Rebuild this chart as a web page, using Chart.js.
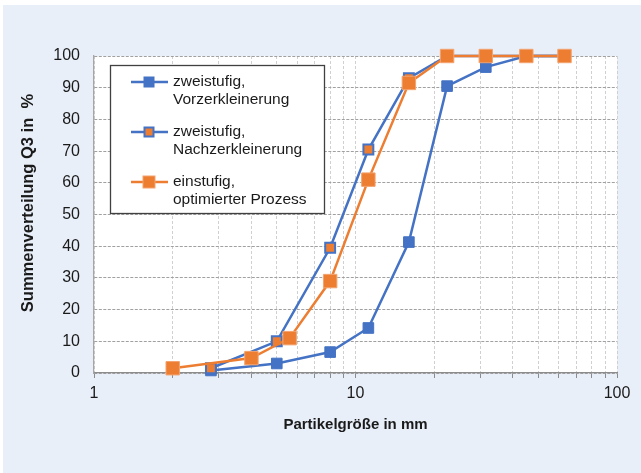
<!DOCTYPE html>
<html>
<head>
<meta charset="utf-8">
<script src="https://cdn.jsdelivr.net/npm/chart.js@4.4.1/dist/chart.umd.min.js"></script>
<style>
  html, body { margin: 0; padding: 0; background: #ffffff; }
  #frame { position: absolute; left: 3px; top: 5px; width: 638px; height: 468px; background: #e9eff9; }
  #chart { display: block; }
</style>
</head>
<body>
<div id="frame"><canvas id="chart" width="638" height="468"></canvas></div>
<script>
// Partikelgrößen (mm) und Summenverteilung Q3 (%)
const sizesVor = [2.8, 5, 8, 11.2, 16, 22.4, 31.5, 45, 63];
const q3Vor = [0.8, 3, 6.6, 14.2, 41.3, 90.5, 96.5, 100, 100];

const sizesNach = [2.8, 5, 8, 11.2, 16, 22.4, 31.5, 45, 63];
const q3Nach = [1.5, 10, 39.5, 70.5, 93, 100, 100, 100, 100];

const sizesEin = [2, 4, 5.6, 8, 11.2, 16, 22.4, 31.5, 45, 63];
const q3Ein = [1.5, 4.7, 11, 29, 61, 91.5, 100, 100, 100, 100];

const xTicks = [1, 2, 3, 4, 5, 6, 7, 8, 9, 10, 20, 30, 40, 50, 60, 70, 80, 90, 100];
const xLabels = [1, 10, 100];
const yTicks = [0, 10, 20, 30, 40, 50, 60, 70, 80, 90, 100];

const labels = [
  ["zweistufig,", "Vorzerkleinerung"],
  ["zweistufig,", "Nachzerkleinerung"],
  ["einstufig,", "optimierter Prozess"],
];

const blue = "#4472c4";
const orange = "#ed7d31";
const fontFamily = "'Liberation Sans', Arial, sans-serif";

const toPoints = (xs, ys) => xs.map((x, i) => ({ x: x, y: ys[i] }));

// white plot area on the blue frame
const plotBg = {
  id: "plotBg",
  beforeDraw(chart) {
    const { ctx, chartArea: a } = chart;
    ctx.save();
    ctx.fillStyle = "#ffffff";
    ctx.fillRect(a.left, a.top, a.right - a.left, a.bottom - a.top);
    ctx.restore();
  },
};

// legend drawn into the plot like the original
const boxLegend = {
  id: "boxLegend",
  afterDatasetsDraw(chart) {
    const ctx = chart.ctx;
    const area = chart.chartArea;
    const bx = area.left + 16, by = area.top + 9, bw = 214, bh = 148;
    ctx.save();
    ctx.fillStyle = "#ffffff";
    ctx.fillRect(bx, by, bw, bh);
    ctx.strokeStyle = "#404040";
    ctx.lineWidth = 1.3;
    ctx.strokeRect(bx + 0.5, by + 0.5, bw, bh);

    chart.data.datasets.forEach((ds, i) => {
      const cy = by + 17 + 50 * i;
      ctx.strokeStyle = ds.borderColor;
      ctx.lineWidth = 2.5;
      ctx.beginPath();
      ctx.moveTo(bx + 21, cy);
      ctx.lineTo(bx + 58, cy);
      ctx.stroke();

      const s = ds.legendSize;
      ctx.fillStyle = ds.pointBackgroundColor;
      ctx.fillRect(bx + 39 - s / 2, cy - s / 2, s, s);
      ctx.strokeStyle = ds.pointBorderColor;
      ctx.lineWidth = ds.pointBorderWidth;
      ctx.strokeRect(bx + 39 - s / 2, cy - s / 2, s, s);

      ctx.fillStyle = "#1a1a1a";
      ctx.font = "15.5px " + fontFamily;
      ctx.textBaseline = "middle";
      ctx.textAlign = "left";
      labels[i].forEach((line, j) => {
        ctx.fillText(line, bx + 63, cy + j * 18);
      });
    });
    ctx.restore();
  },
};

new Chart(document.getElementById("chart"), {
  type: "line",
  data: {
    datasets: [
      {
        label: labels[0].join(" "),
        data: toPoints(sizesVor, q3Vor),
        borderColor: blue,
        borderWidth: 2.5,
        pointStyle: "rect",
        pointRadius: 7.5,
        pointBackgroundColor: blue,
        pointBorderColor: blue,
        pointBorderWidth: 1,
        legendSize: 10,
        clip: false,
        order: 3,
      },
      {
        label: labels[1].join(" "),
        data: toPoints(sizesNach, q3Nach),
        borderColor: blue,
        borderWidth: 2.5,
        pointStyle: "rect",
        pointRadius: 7,
        pointBackgroundColor: orange,
        pointBorderColor: blue,
        pointBorderWidth: 2,
        legendSize: 9,
        clip: false,
        order: 2,
      },
      {
        label: labels[2].join(" "),
        data: toPoints(sizesEin, q3Ein),
        borderColor: orange,
        borderWidth: 2.5,
        pointStyle: "rect",
        pointRadius: 9.5,
        pointBackgroundColor: orange,
        pointBorderColor: "#f3a36e",
        pointBorderWidth: 1,
        legendSize: 12,
        clip: false,
        order: 1,
      },
    ],
  },
  options: {
    responsive: false,
    animation: false,
    events: [],
    layout: { padding: { left: 0, right: 24, top: 51, bottom: 0 } },
    plugins: { legend: { display: false }, tooltip: { enabled: false } },
    elements: { line: { tension: 0 } },
    scales: {
      x: {
        type: "logarithmic",
        min: 1,
        max: 100,
        afterBuildTicks: (scale) => {
          scale.ticks = xTicks.map((v) => ({ value: v }));
        },
        afterFit: (scale) => {
          scale.height = 100;
        },
        ticks: {
          autoSkip: false,
          maxRotation: 0,
          padding: 6,
          color: "#1a1a1a",
          font: { family: fontFamily, size: 16 },
          callback: (v) => (xLabels.includes(v) ? String(v) : ""),
        },
        grid: {
          color: "#d0d0d0",
          lineWidth: 1,
          tickLength: 5,
          tickColor: "#8c8c8c",
          tickBorderDash: [],
        },
        border: { color: "#8c8c8c", width: 1.3, dash: [3, 2] },
        title: {
          display: true,
          text: "Partikelgröße in mm",
          color: "#1a1a1a",
          font: { family: fontFamily, size: 15, weight: "bold" },
          padding: { top: 0, bottom: 39 },
        },
      },
      y: {
        min: 0,
        max: 100,
        afterBuildTicks: (scale) => {
          scale.ticks = yTicks.map((v) => ({ value: v }));
        },
        afterFit: (scale) => {
          scale.width = 91;
        },
        ticks: {
          padding: 14,
          color: "#1a1a1a",
          font: { family: fontFamily, size: 16 },
        },
        grid: { color: "#a0a0a0", lineWidth: 1, drawTicks: false },
        border: { color: "#a6a6a6", width: 1.3, dash: [3, 1.5] },
        title: {
          display: true,
          text: "     Summenverteilung Q3 in  %",
          color: "#1a1a1a",
          font: { family: fontFamily, size: 16.5, weight: "bold" },
          padding: { top: 16, bottom: 0 },
        },
      },
    },
  },
  plugins: [plotBg, boxLegend],
});
</script>
</body>
</html>
